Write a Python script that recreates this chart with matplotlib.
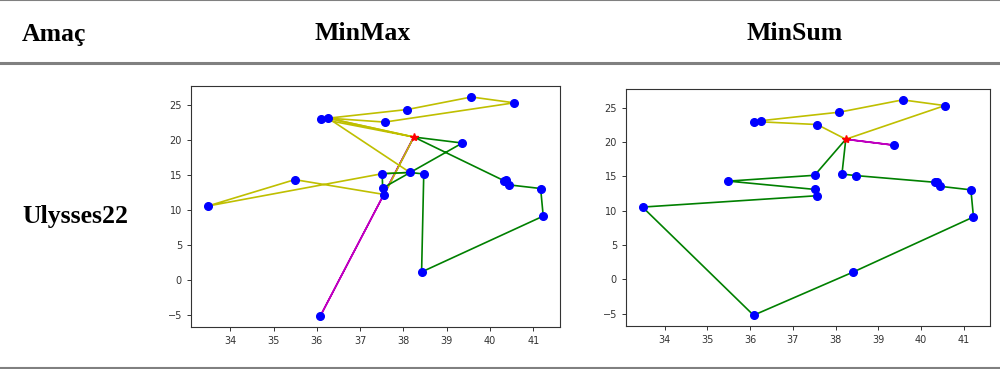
import matplotlib
matplotlib.use("Agg")
import matplotlib.pyplot as plt
from matplotlib.lines import Line2D

# Ulysses22 node coordinates (index 0 = depot)
lat = [38.24, 39.57, 40.56, 36.26, 33.48, 37.56, 38.42, 37.52, 41.23, 41.17, 36.08,
       38.47, 38.15, 37.51, 35.49, 39.36, 38.09, 36.09, 40.44, 40.33, 40.37, 37.57]
lon = [20.42, 26.15, 25.32, 23.12, 10.54, 12.19, 1.10, 13.11, 9.10, 13.05, -5.21,
       15.13, 15.35, 15.17, 14.32, 19.56, 24.36, 23.00, 13.57, 14.15, 14.23, 22.56]

# routes (node indices), one list per vehicle
minmax_routes = [
    ("m", [0, 10, 0]),
    ("y", [0, 17, 16, 1, 2, 21, 3, 0]),
    ("y", [0, 3, 12, 13, 4, 14, 5, 0]),
    ("g", [0, 19, 20, 18, 9, 8, 6, 11, 12, 13, 7, 15, 0]),
]
minsum_routes = [
    ("y", [0, 21, 17, 3, 16, 1, 2, 0]),
    ("m", [0, 15, 0]),
    ("g", [0, 13, 14, 7, 5, 4, 10, 6, 8, 9, 18, 20, 19, 11, 12, 0]),
]

headers = ["Amaç", "MinMax", "MinSum"]
row_label = "Ulysses22"


def draw_routes(ax, routes):
    for color, route in routes:
        xs = [lat[i] for i in route]
        ys = [lon[i] for i in route]
        ax.plot(xs, ys, color=color, linewidth=1.2)
    ax.plot(lat[1:], lon[1:], "bo", markersize=5.5)
    ax.plot(lat[0], lon[0], "r*", markersize=6)
    ax.set_xticks(range(34, 42))
    ax.set_yticks(range(-5, 30, 5))
    ax.tick_params(labelsize=7, length=3, width=0.7, colors="#333333")
    for s in ax.spines.values():
        s.set_linewidth(0.8)
        s.set_color("#333333")


fig = plt.figure(figsize=(10, 3.69), dpi=100)

ax1 = fig.add_axes([0.191, 0.1138, 0.369, 0.653])
draw_routes(ax1, minmax_routes)
ax2 = fig.add_axes([0.626, 0.1165, 0.364, 0.642])
draw_routes(ax2, minsum_routes)

# table look: horizontal rules and header / row text
for y, lw in [(0.999, 1.5), (1 - 63 / 369, 2.2), (1 - 368 / 369, 1.5)]:
    fig.add_artist(Line2D([0, 1], [y, y], color="#808080", linewidth=lw,
                          transform=fig.transFigure))

font = dict(family="Liberation Serif", weight="bold", fontsize=18.5)
fig.text(0.022, 1 - 34 / 369, headers[0], ha="left", va="center", **font)
fig.text(0.363, 1 - 34 / 369, headers[1], ha="center", va="center", **font)
fig.text(0.795, 1 - 34 / 369, headers[2], ha="center", va="center", **font)
fig.text(0.022, 1 - 217 / 369, row_label, ha="left", va="center", **font)

fig.savefig("out.png", dpi=100)
